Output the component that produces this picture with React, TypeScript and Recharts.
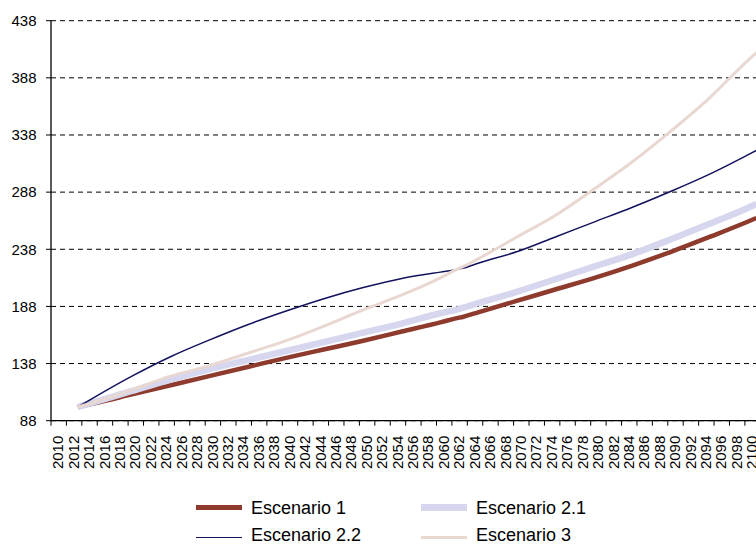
import React from "react";
import { LineChart, Line, XAxis, YAxis, CartesianGrid, Legend } from "recharts";

const years = [2013, 2015, 2020, 2025, 2030, 2035, 2040, 2045, 2050, 2055, 2060, 2062, 2063, 2065, 2070, 2075, 2080, 2085, 2090, 2095, 2100, 2101];
const escenario1 = [100, 103, 111, 119, 127, 135, 143, 150.5, 158, 166, 174, 177.5, 179, 183, 193, 203, 213, 224, 236, 249, 262.5, 265.4];
const escenario21 = [100, 104, 114, 124, 133, 141, 149, 157, 165, 173, 182, 185, 187, 191, 201, 212, 223, 234, 247, 260.5, 274.5, 277.7];
const escenario22 = [100, 108, 127, 144, 158.5, 172, 184, 195, 204.5, 212.5, 218, 220, 221.5, 226, 236, 249, 262, 275, 289, 304, 321, 324.5];
const escenario3 = [100, 104, 115, 127, 136, 147, 158, 171, 185, 198, 213, 220, 223, 230, 249, 268, 291, 315, 342, 371, 404, 410];

const xLabels = [2010, 2012, 2014, 2016, 2018, 2020, 2022, 2024, 2026, 2028, 2030, 2032, 2034, 2036, 2038, 2040, 2042, 2044, 2046, 2048, 2050, 2052, 2054, 2056, 2058, 2060, 2062, 2064, 2066, 2068, 2070, 2072, 2074, 2076, 2078, 2080, 2082, 2084, 2086, 2088, 2090, 2092, 2094, 2096, 2098, 2100];
const yTicks = [88, 138, 188, 238, 288, 338, 388, 438];

const seriesNames = ["Escenario 1", "Escenario 2.1", "Escenario 2.2", "Escenario 3"];
const seriesKeys = ["e1", "e21", "e22", "e3"];
const seriesColors = ["#8E3B2E", "#D6D6EE", "#12125E", "#E8D8D1"];
const seriesWidths = [4.5, 6.5, 1.5, 3];

const data = years.map((year, i) => ({
  year,
  e1: escenario1[i],
  e21: escenario21[i],
  e22: escenario22[i],
  e3: escenario3[i],
}));

const FONT = "'Liberation Sans', Arial, sans-serif";

const XTick = (props: any) => {
  const { x, y, payload } = props;
  const cx = x + 7;
  const cy = y + 10;
  return (
    <text
      x={cx}
      y={cy}
      transform={`rotate(-90, ${cx}, ${cy})`}
      textAnchor="end"
      dy="0.36em"
      fontSize={15}
      fontFamily={FONT}
      fill="#000"
    >
      {payload.value + 0.5}
    </text>
  );
};

const legendLines = [
  { left: 188, top: 27.7 },
  { left: 413, top: 27.7 },
  { left: 188, top: 57.3 },
  { left: 413, top: 57.3 },
];
const legendTexts = [18.75, 18.75, 45.75, 45.75];

const renderLegend = () => (
  <div style={{ position: "relative", width: 748, height: 64, fontFamily: FONT }}>
    {seriesNames.map((name, i) => (
      <div key={name}>
        <div
          style={{
            position: "absolute",
            left: legendLines[i].left,
            top: legendLines[i].top - seriesWidths[i] / 2,
            width: 46,
            height: seriesWidths[i],
            background: seriesColors[i],
          }}
        />
        <div
          style={{
            position: "absolute",
            left: legendLines[i].left + 55,
            top: legendTexts[i],
            fontSize: 18,
            lineHeight: "18px",
            color: "#000",
            whiteSpace: "nowrap",
          }}
        >
          {name}
        </div>
      </div>
    ))}
  </div>
);

export default function App() {
  return (
    <div style={{ position: "absolute", left: 8, top: 8, width: 748, height: 536, overflow: "hidden" }}>
      <LineChart
        width={748}
        height={536}
        data={data}
        margin={{ top: 12.7, right: 0, bottom: 0, left: 0 }}
        style={{ fontFamily: FONT }}
      >
        <CartesianGrid vertical={false} stroke="#000" strokeDasharray="5 4" />
        <XAxis
          type="number"
          dataKey="year"
          domain={[2009.5, 2100.94]}
          ticks={xLabels.map((v) => v - 0.5)}
          interval={0}
          allowDataOverflow
          height={59.3}
          tickSize={5}
          tickMargin={0}
          axisLine={{ stroke: "#000", strokeWidth: 1.3 }}
          tickLine={{ stroke: "#000" }}
          tick={<XTick />}
        />
        <YAxis
          type="number"
          domain={[88, 438]}
          ticks={yTicks}
          interval={0}
          width={43}
          tickSize={5}
          tickMargin={9.5}
          axisLine={{ stroke: "#000", strokeWidth: 1.3 }}
          tickLine={{ stroke: "#000" }}
          tick={{ fill: "#000", fontSize: 15, fontFamily: FONT }}
        />
        <Legend
          content={renderLegend}
          verticalAlign="bottom"
          wrapperStyle={{ left: 0, width: 748, height: 64 }}
        />
        {seriesKeys.map((k, i) => (
          <Line
            key={k}
            dataKey={k}
            name={seriesNames[i]}
            type="monotone"
            stroke={seriesColors[i]}
            strokeWidth={seriesWidths[i]}
            dot={false}
            activeDot={false}
            isAnimationActive={false}
          />
        ))}
      </LineChart>
    </div>
  );
}
